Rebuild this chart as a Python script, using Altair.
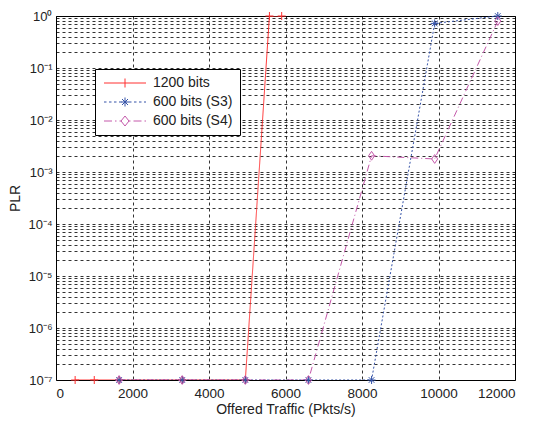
import altair as alt
import pandas as pd

# ---- data ----
series_names = ["1200 bits", "600 bits (S3)", "600 bits (S4)"]
x_ticks = [0, 2000, 4000, 6000, 8000, 10000, 12000]

red_x = [500, 1000, 1650, 3300, 4950, 5580, 5900]
red_y = [1e-7, 1e-7, 1e-7, 1e-7, 1e-7, 1.0, 1.0]
s3_x = [1650, 3300, 4950, 6600, 8250, 9900, 11550]
s3_y = [1e-7, 1e-7, 1e-7, 1e-7, 1e-7, 0.72, 1.0]
s4_x = [1650, 3300, 4950, 6600, 8250, 9900, 11550]
s4_y = [1e-7, 1e-7, 1e-7, 1e-7, 2.05e-3, 1.78e-3, 0.8]

# ---- styles ----
colors = ["#ff3030", "#3553a8", "#c458aa"]
dashes = [[1, 0], [2, 2], [7, 3, 1, 3]]
marker_paths = [
    "M0,-1L0,1M-1,0L1,0",
    "M0,-1L0,1M-1,0L1,0M-0.7,-0.7L0.7,0.7M-0.7,0.7L0.7,-0.7",
    "M0,-1.1L0.75,0L0,1.1L-0.75,0Z",
]
# legend samples: line + marker, in symbol units (1 unit = 5 px)
legend_paths = [
    "M-1,0L7.4,0M3.2,-0.9L3.2,0.9",
    "M-1,0L-0.5,0M0,0L0.5,0M1,0L1.5,0M2,0L2.5,0M3,0L3.5,0M4,0L4.5,0M5,0L5.5,0M6,0L6.5,0M7,0L7.4,0"
    "M3.2,-0.9L3.2,0.9M2.4,0L4,0M2.6,-0.6L3.8,0.6M2.6,0.6L3.8,-0.6",
    "M-1,0L0.6,0M1.2,0L1.5,0M2.1,0L2.5,0M3.9,0L4.3,0M4.9,0L6.5,0M7.1,0L7.4,0"
    "M3.2,-1L4,0L3.2,1L2.4,0Z",
]

y_values = [m * 10.0 ** e for e in range(-7, 0) for m in range(1, 10)] + [1.0]

frames = []
for name, xs, ys in zip(series_names, [red_x, s3_x, s4_x], [red_y, s3_y, s4_y]):
    frames.append(pd.DataFrame({"x": xs, "y": ys, "series": name}))
df = pd.concat(frames, ignore_index=True)

font = "Liberation Sans"

label_expr = (
    "abs(log(datum.value)/LN10 - round(log(datum.value)/LN10)) < 0.001 ? "
    "'10' + (round(log(datum.value)/LN10) < 0 ? '\u207b' : '') + "
    "['\u2070','\u00b9','\u00b2','\u00b3','\u2074','\u2075','\u2076','\u2077','\u2078','\u2079']"
    "[abs(round(log(datum.value)/LN10))] : ''"
)

xenc = alt.X(
    "x:Q",
    scale=alt.Scale(domain=[0, 12000], nice=False),
    axis=alt.Axis(values=x_ticks, format="d", title="Offered Traffic (Pkts/s)",
                  labelPadding=6, titlePadding=3, labelFontSize=13.5),
)
yenc = alt.Y(
    "y:Q",
    scale=alt.Scale(type="log", domain=[1e-7, 1], nice=False),
    axis=alt.Axis(values=y_values, labelExpr=label_expr, title="PLR",
                  labelPadding=4, titlePadding=5),
)

layers = []
for name, col, dash in zip(series_names, colors, dashes):
    layers.append(
        alt.Chart(df[df["series"] == name])
        .mark_line(strokeWidth=1, clip=True, color=col, strokeDash=dash)
        .encode(x=xenc, y=yenc)
    )
for name, path, col in zip(series_names, marker_paths, colors):
    layers.append(
        alt.Chart(df[df["series"] == name])
        .mark_point(shape=path, size=64, filled=False, strokeWidth=1, color=col, opacity=1)
        .encode(x=xenc, y=yenc)
    )

leg = alt.Legend(
    title=None,
    orient="none",
    legendX=39,
    legendY=53,
    symbolSize=100,
    symbolStrokeWidth=1,
    symbolOpacity=1,
    labelOffset=37,
    labelFontSize=14,
    labelFont=font,
    labelColor="#222222",
    rowPadding=5,
    padding=7,
    strokeColor="#000000",
    fillColor="#ffffff",
    cornerRadius=0,
)

legend_layer = alt.Chart(df).mark_point(filled=False, opacity=0, size=100).encode(
    x=xenc,
    y=yenc,
    color=alt.Color("series:N", scale=alt.Scale(domain=series_names, range=colors), legend=leg),
    shape=alt.Shape("series:N", scale=alt.Scale(domain=series_names, range=legend_paths), legend=leg),
)
layers.append(legend_layer)

chart = (
    alt.layer(*layers)
    .properties(
        width=525,
        height=409,
        padding={"left": 0, "top": 2, "right": 0, "bottom": 0},
        autosize=alt.AutoSizeParams(type="fit", contains="padding"),
    )
    .configure_view(stroke="#000000", strokeWidth=1)
    .configure_axis(
        domain=False,
        ticks=False,
        grid=True,
        gridColor="#000000",
        gridDash=[3, 3],
        gridOpacity=0.8,
        gridWidth=1,
        labelFont=font,
        labelFontSize=13,
        labelColor="#222222",
        titleFont=font,
        titleFontSize=14,
        titleFontWeight="normal",
        titleColor="#222222",
    )
)

chart.save("out.html", embed_options={"renderer": "svg", "actions": False})
